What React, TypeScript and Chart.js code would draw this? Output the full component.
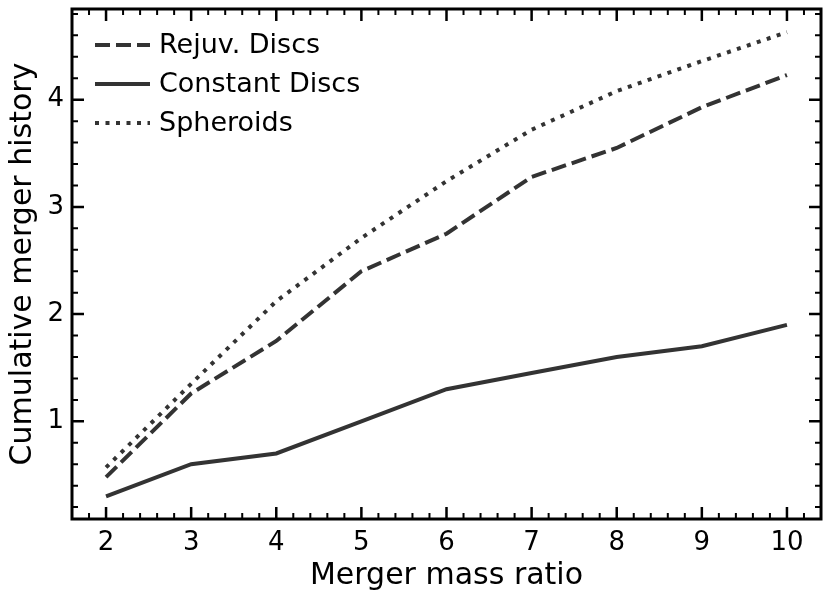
import React, { useEffect, useRef } from 'react';
import { Chart, registerables } from 'chart.js';

Chart.register(...registerables);

const massRatio = [2, 3, 4, 5, 6, 7, 8, 9, 10];
const rejuvDiscs = [0.48, 1.26, 1.75, 2.4, 2.75, 3.28, 3.55, 3.93, 4.23];
const constantDiscs = [0.3, 0.6, 0.7, 1.0, 1.3, 1.45, 1.6, 1.7, 1.9];
const spheroids = [0.57, 1.35, 2.12, 2.71, 3.24, 3.72, 4.08, 4.36, 4.63];
const xTicks = [2, 3, 4, 5, 6, 7, 8, 9, 10];
const yTicks = [1, 2, 3, 4];

const FONT = "'DejaVu Sans', sans-serif";
const LINE_COLOR = '#333333';

const seriesStyle = [
    { label: 'Rejuv. Discs', data: rejuvDiscs, dash: [15, 6] },
    { label: 'Constant Discs', data: constantDiscs, dash: [] as number[] },
    { label: 'Spheroids', data: spheroids, dash: [4, 6.5] },
];

// inward ticks on all four sides, frame and legend inside the axes
const framePlugin = {
    id: 'frame',
    afterDraw(chart: any) {
        const { ctx, chartArea: a, scales } = chart;
        const xs = scales.x;
        const ys = scales.y;
        ctx.save();
        ctx.strokeStyle = '#000';
        ctx.lineCap = 'butt';

        const xMinor: number[] = [];
        for (let v = 1.6; v <= 10.41; v += 0.2) xMinor.push(Math.round(v * 10) / 10);
        const yMinor: number[] = [];
        for (let v = 0.2; v <= 4.81; v += 0.2) yMinor.push(Math.round(v * 10) / 10);

        const tick = (len: number, w: number, vals: number[], axis: 'x' | 'y') => {
            ctx.lineWidth = w;
            ctx.beginPath();
            vals.forEach((v) => {
                if (axis === 'x') {
                    const px = xs.getPixelForValue(v);
                    ctx.moveTo(px, a.bottom);
                    ctx.lineTo(px, a.bottom - len);
                    ctx.moveTo(px, a.top);
                    ctx.lineTo(px, a.top + len);
                } else {
                    const py = ys.getPixelForValue(v);
                    ctx.moveTo(a.left, py);
                    ctx.lineTo(a.left + len, py);
                    ctx.moveTo(a.right, py);
                    ctx.lineTo(a.right - len, py);
                }
            });
            ctx.stroke();
        };
        tick(6, 2, xMinor.filter((v) => !xTicks.includes(v)), 'x');
        tick(6, 2, yMinor.filter((v) => !yTicks.includes(v)), 'y');
        tick(12, 2.5, xTicks, 'x');
        tick(12, 2.5, yTicks, 'y');

        ctx.lineWidth = 3;
        ctx.strokeRect(a.left, a.top, a.right - a.left, a.bottom - a.top);

        // legend
        ctx.font = `27px ${FONT}`;
        ctx.textBaseline = 'middle';
        ctx.fillStyle = '#000';
        seriesStyle.forEach((s, i) => {
            const y = a.top + 36 + i * 39;
            ctx.strokeStyle = LINE_COLOR;
            ctx.lineWidth = 4;
            ctx.setLineDash(s.dash);
            ctx.beginPath();
            ctx.moveTo(a.left + 23, y);
            ctx.lineTo(a.left + 78, y);
            ctx.stroke();
            ctx.setLineDash([]);
            ctx.fillText(s.label, a.left + 87, y + 1);
        });
        ctx.restore();
    },
};

const App: React.FC = () => {
    const chartRef = useRef<HTMLCanvasElement>(null);
    const chartInstance = useRef<Chart | null>(null);

    useEffect(() => {
        if (!chartRef.current) return;
        if (chartInstance.current) chartInstance.current.destroy();
        const ctx = chartRef.current.getContext('2d');
        if (!ctx) return;

        chartInstance.current = new Chart(ctx, {
            type: 'line',
            data: {
                datasets: seriesStyle.map((s) => ({
                    label: s.label,
                    data: massRatio.map((x, i) => ({ x, y: s.data[i] })),
                    borderColor: LINE_COLOR,
                    borderWidth: 4,
                    borderDash: s.dash,
                    borderCapStyle: 'butt',
                    pointRadius: 0,
                    fill: false,
                    tension: 0,
                })),
            },
            options: {
                responsive: false,
                animation: false,
                layout: { padding: { top: 9, right: 10, left: 0, bottom: 0 } },
                plugins: {
                    legend: { display: false },
                    tooltip: { enabled: false },
                },
                scales: {
                    x: {
                        type: 'linear',
                        min: 1.6,
                        max: 10.4,
                        grid: { display: false, drawTicks: false },
                        border: { display: false },
                        afterBuildTicks: (scale: any) => {
                            scale.ticks = xTicks.map((v) => ({ value: v }));
                        },
                        afterFit: (scale: any) => {
                            scale.height = 83;
                            scale.paddingLeft = 0;
                            scale.paddingRight = 0;
                        },
                        ticks: {
                            color: '#000',
                            padding: 9,
                            maxRotation: 0,
                            font: { family: FONT, size: 26 },
                        },
                        title: {
                            display: true,
                            text: 'Merger mass ratio',
                            color: '#000',
                            font: { family: FONT, size: 30 },
                            padding: { top: 0, bottom: 8 },
                        },
                    },
                    y: {
                        type: 'linear',
                        min: 0.089,
                        max: 4.846,
                        grid: { display: false, drawTicks: false },
                        border: { display: false },
                        afterBuildTicks: (scale: any) => {
                            scale.ticks = yTicks.map((v) => ({ value: v }));
                        },
                        afterFit: (scale: any) => {
                            scale.width = 72;
                            scale.paddingTop = 0;
                            scale.paddingBottom = 0;
                        },
                        ticks: {
                            color: '#000',
                            padding: 8,
                            font: { family: FONT, size: 26 },
                        },
                        title: {
                            display: true,
                            text: 'Cumulative merger history',
                            color: '#000',
                            font: { family: FONT, size: 30 },
                            padding: { top: 5, bottom: 0 },
                        },
                    },
                },
            },
            plugins: [framePlugin],
        });

        return () => {
            if (chartInstance.current) {
                chartInstance.current.destroy();
                chartInstance.current = null;
            }
        };
    }, []);

    return (
        <div style={{ position: 'fixed', left: 0, top: 0, width: 831, height: 602, background: '#fff' }}>
            <canvas ref={chartRef} width={831} height={602} style={{ width: 831, height: 602 }}></canvas>
        </div>
    );
};

export default App;
